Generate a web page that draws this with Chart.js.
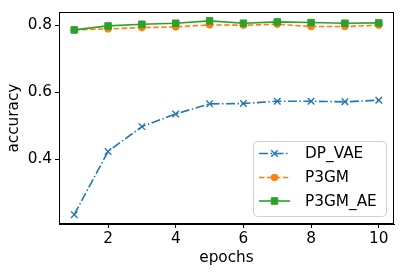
<!DOCTYPE html>
<html>
<head>
<meta charset="utf-8">
<script src="https://cdn.jsdelivr.net/npm/chart.js@4/dist/chart.umd.min.js"></script>
<style>
html,body{margin:0;padding:0;background:#fff;}
#wrap{width:400px;height:272px;position:relative;}
</style>
</head>
<body>
<div id="wrap"><canvas id="c" width="400" height="272"></canvas></div>
<script>
const epochs = [1,2,3,4,5,6,7,8,9,10];
const dpVae  = [0.234,0.423,0.497,0.535,0.565,0.566,0.573,0.573,0.571,0.576];
const p3gm   = [0.786,0.789,0.793,0.795,0.801,0.800,0.803,0.796,0.796,0.800];
const p3gmAe = [0.786,0.798,0.803,0.806,0.813,0.806,0.810,0.808,0.806,0.807];
const xTicks = [2,4,6,8,10];
const yTicks = [0.4,0.6,0.8];
const seriesNames = ['DP_VAE','P3GM','P3GM_AE'];

const FONT = 'DejaVu Sans';
const FS = 15.3;

function pts(arr){ return arr.map((v,i)=>({x:epochs[i], y:v})); }

const framePlugin = {
  id:'frame',
  afterDraw(chart){
    const a = chart.chartArea, ctx = chart.ctx;
    ctx.save();
    ctx.strokeStyle = '#000';
    ctx.lineWidth = 1;
    ctx.strokeRect(Math.round(a.left)+0.5, Math.round(a.top)+0.5, Math.round(a.right-a.left)-1, Math.round(a.bottom-a.top)-1);
    ctx.restore();
  }
};

const legendPlugin = {
  id:'innerLegend',
  afterDraw(chart){
    const ctx = chart.ctx;
    const bx = 253, by = 141, bw = 133, bh = 75;
    ctx.save();
    ctx.beginPath();
    if (ctx.roundRect) ctx.roundRect(bx+0.5, by+0.5, bw, bh, 4); else ctx.rect(bx+0.5,by+0.5,bw,bh);
    ctx.fillStyle = 'rgba(255,255,255,0.8)';
    ctx.fill();
    ctx.strokeStyle = '#d0d0d0';
    ctx.lineWidth = 1;
    ctx.stroke();
    const rows = [153.5, 177.5, 201];
    chart.data.datasets.forEach((ds, i) => {
      const y = rows[i];
      ctx.save();
      ctx.strokeStyle = ds.borderColor;
      ctx.lineWidth = ds.borderWidth;
      ctx.setLineDash(ds.borderDash || []);
      ctx.beginPath();
      ctx.moveTo(259, y);
      ctx.lineTo(290, y);
      ctx.stroke();
      ctx.restore();
      ctx.save();
      ctx.fillStyle = ds.pointBackgroundColor;
      ctx.strokeStyle = ds.pointBorderColor;
      ctx.lineWidth = ds.pointBorderWidth;
      ctx.setLineDash([]);
      Chart.helpers.drawPoint(ctx, {
        pointStyle: ds.pointStyle,
        radius: ds.pointRadius,
        rotation: 0,
        borderWidth: ds.pointBorderWidth
      }, 274.5, y);
      ctx.restore();
      ctx.fillStyle = '#000';
      ctx.font = FS + 'px "' + FONT + '"';
      ctx.textBaseline = 'middle';
      ctx.textAlign = 'left';
      ctx.fillText(ds.label, 305, y+1);
    });
    ctx.restore();
  }
};

const chart = new Chart(document.getElementById('c'), {
  type:'line',
  data:{
    datasets:[
      {label:seriesNames[0], data:pts(dpVae), borderColor:'#1f77b4', backgroundColor:'#1f77b4',
       borderWidth:1.6, borderDash:[9,2.5,1.5,2.5], pointStyle:'crossRot', pointRadius:4.6,
       pointBorderColor:'#1f77b4', pointBackgroundColor:'#1f77b4', pointBorderWidth:1.4, order:3, tension:0},
      {label:seriesNames[1], data:pts(p3gm), borderColor:'#ff7f0e', backgroundColor:'#ff7f0e',
       borderWidth:1.6, borderDash:[5.5,2.4], pointStyle:'circle', pointRadius:3.3,
       pointBorderColor:'#ff7f0e', pointBackgroundColor:'#ff7f0e', pointBorderWidth:1, order:2, tension:0},
      {label:seriesNames[2], data:pts(p3gmAe), borderColor:'#2ca02c', backgroundColor:'#2ca02c',
       borderWidth:1.6, pointStyle:'rect', pointRadius:4.6,
       pointBorderColor:'#2ca02c', pointBackgroundColor:'#2ca02c', pointBorderWidth:1, order:1, tension:0}
    ]
  },
  options:{
    responsive:false,
    animation:false,
    devicePixelRatio:1,
    layout:{padding:{left:0, top:6, right:6, bottom:0}},
    plugins:{legend:{display:false}, tooltip:{enabled:false}},
    scales:{
      x:{
        type:'linear', min:0.55, max:10.45,
        afterBuildTicks(s){ s.ticks = xTicks.map(v=>({value:v})); },
        afterFit(s){ s.height = 48; },
        grid:{drawOnChartArea:false, drawTicks:true, tickLength:4, color:'#000', tickWidth:1},
        border:{display:true, color:'#000', width:1},
        ticks:{color:'#000', font:{family:FONT, size:FS}, padding:2, maxRotation:0, callback:v=>String(v)},
        title:{display:true, text:'epochs', color:'#000', font:{family:FONT, size:FS}, padding:{top:5,bottom:5}}
      },
      y:{
        type:'linear', min:0.206, max:0.839,
        afterBuildTicks(s){ s.ticks = yTicks.map(v=>({value:v})); },
        afterFit(s){ s.width = 59; },
        grid:{drawOnChartArea:false, drawTicks:true, tickLength:4, color:'#000', tickWidth:1},
        border:{display:true, color:'#000', width:1},
        ticks:{color:'#000', font:{family:FONT, size:FS}, padding:3, callback:v=>v.toFixed(1)},
        title:{display:true, text:'accuracy', color:'#000', font:{family:FONT, size:FS}, padding:{top:5,bottom:5}}
      }
    }
  },
  plugins:[framePlugin, legendPlugin]
});
</script>
</body>
</html>
